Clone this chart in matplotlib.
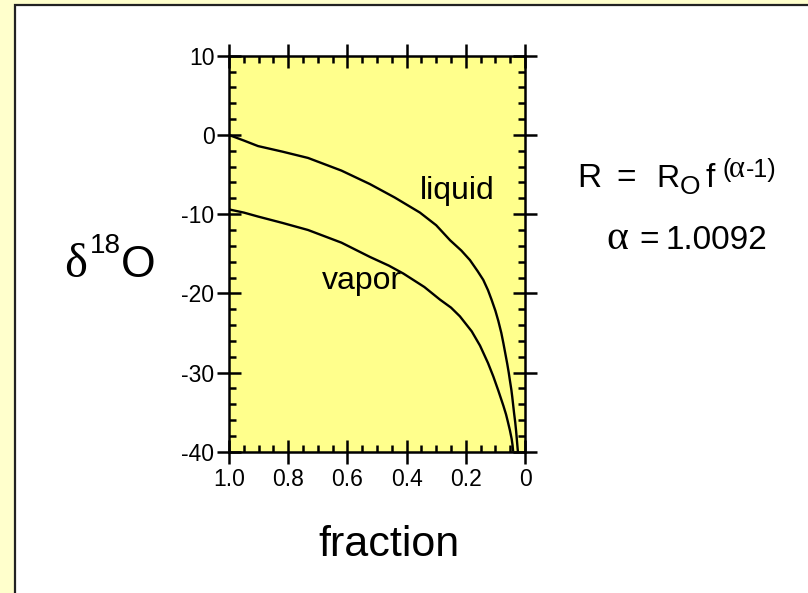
import matplotlib
matplotlib.use("Agg")
import matplotlib.pyplot as plt
from matplotlib.patches import Rectangle
from matplotlib.ticker import MultipleLocator

# values (fraction f, delta 18O in permil)
liquid_f = [1.0, 0.950, 0.902, 0.820, 0.733, 0.620, 0.524, 0.440, 0.355, 0.300,
            0.253, 0.215, 0.186, 0.160, 0.141, 0.125, 0.113, 0.100, 0.090, 0.080,
            0.073, 0.065, 0.060, 0.055, 0.051, 0.046, 0.043, 0.040, 0.037, 0.033,
            0.030, 0.027, 0.024]
liquid_d = [0.0, -0.7, -1.4, -2.1, -2.9, -4.5, -6.2, -7.9, -9.8, -11.4,
            -13.3, -14.6, -15.8, -17.2, -18.3, -19.6, -20.8, -22.2, -23.5, -25.0,
            -26.3, -27.9, -28.9, -30.0, -31.0, -32.2, -33.1, -34.1, -35.1, -36.3,
            -37.4, -38.7, -40.0]
vapor_f = [1.0, 0.950, 0.902, 0.820, 0.733, 0.620, 0.524, 0.460, 0.411, 0.340,
           0.287, 0.250, 0.220, 0.180, 0.152, 0.125, 0.107, 0.090, 0.073, 0.064,
           0.058, 0.051, 0.045, 0.042, 0.040]
vapor_d = [-9.4, -9.8, -10.3, -11.1, -12.0, -13.6, -15.4, -16.5, -17.5, -19.2,
           -20.8, -21.8, -22.9, -24.8, -26.6, -28.8, -30.5, -32.3, -34.2, -35.3,
           -36.2, -37.3, -38.4, -39.2, -40.0]
x_ticks = [1.0, 0.8, 0.6, 0.4, 0.2, 0.0]
x_labels = ["1.0", "0.8", "0.6", "0.4", "0.2", "0"]
y_ticks = [10, 0, -10, -20, -30, -40]

W, H = 808, 593
plt.rcParams['font.family'] = ['Liberation Sans', 'DejaVu Sans']
plt.rcParams['axes.unicode_minus'] = False


def px(x, y):
    return x / W, 1 - y / H


fig = plt.figure(figsize=(W / 100, H / 100), dpi=100, facecolor='#FFFFCC')
# white panel with dark border, behind the axes
fig.patches.append(Rectangle(px(17, 7), 1.2, -1.2, transform=fig.transFigure,
                             facecolor='#9a9a9a', edgecolor='none', zorder=-3))
fig.patches.append(Rectangle(px(15, 5), 1.2, -1.2, transform=fig.transFigure,
                             facecolor='white', edgecolor='#222222', lw=1.6, zorder=-2))

l, b = px(229, 451.7)
r, t = px(525, 55.8)
ax = fig.add_axes([l, b, r - l, t - b])
ax.set_facecolor('#FFFF8C')

ax.plot(liquid_f, liquid_d, color='black', lw=1.7, solid_capstyle='butt')
ax.plot(vapor_f, vapor_d, color='black', lw=1.7, solid_capstyle='butt')

ax.set_xlim(1.0, 0.0)
ax.set_ylim(-40, 10)
ax.set_xticks(x_ticks)
ax.set_xticklabels(x_labels)
ax.set_yticks(y_ticks)
ax.xaxis.set_minor_locator(MultipleLocator(0.05))
ax.yaxis.set_minor_locator(MultipleLocator(2))
for s in ax.spines.values():
    s.set_linewidth(1.8)
ax.tick_params(which='major', direction='inout', length=17, width=1.8,
               top=True, right=True, labelsize=16.5, pad=2)
ax.tick_params(which='minor', direction='in', length=5, width=1.8,
               top=True, right=True)
ax.tick_params(axis='x', which='major', pad=3)

fig.text(*px(457, 199), "liquid", fontsize=23, ha='center', va='baseline')
fig.text(*px(362, 289), "vapor", fontsize=23, ha='center', va='baseline')

fig.text(*px(389, 556), "fraction", fontsize=31, ha='center', va='baseline')

fig.text(*px(64, 277), "δ", fontsize=35, family='Liberation Serif', ha='left', va='baseline')
fig.text(*px(90, 253), "18", fontsize=20, ha='left', va='baseline')
fig.text(*px(121, 277), "O", fontsize=32, ha='left', va='baseline')

fig.text(*px(577, 187), "R", fontsize=24, ha='left', va='baseline')
fig.text(*px(626, 187), "=", fontsize=24, ha='center', va='baseline')
fig.text(*px(656, 187), "R", fontsize=23, ha='left', va='baseline')
fig.text(*px(680, 194), "O", fontsize=19, ha='left', va='baseline')
fig.text(*px(706, 187), "f", fontsize=24, ha='left', va='baseline')
fig.text(*px(722, 177), "(", fontsize=18, ha='left', va='baseline')
fig.text(*px(729, 177), "α", fontsize=22, family='Liberation Serif', ha='left', va='baseline')
fig.text(*px(746, 177), "-1)", fontsize=18, ha='left', va='baseline')

fig.text(*px(606, 249), "α", fontsize=30, family='Liberation Serif', ha='left', va='baseline')
fig.text(*px(649, 249), "=", fontsize=24, ha='center', va='baseline')
fig.text(*px(666, 249), "1.0092", fontsize=24, ha='left', va='baseline')

fig.savefig("out.png", dpi=100, facecolor=fig.get_facecolor())
